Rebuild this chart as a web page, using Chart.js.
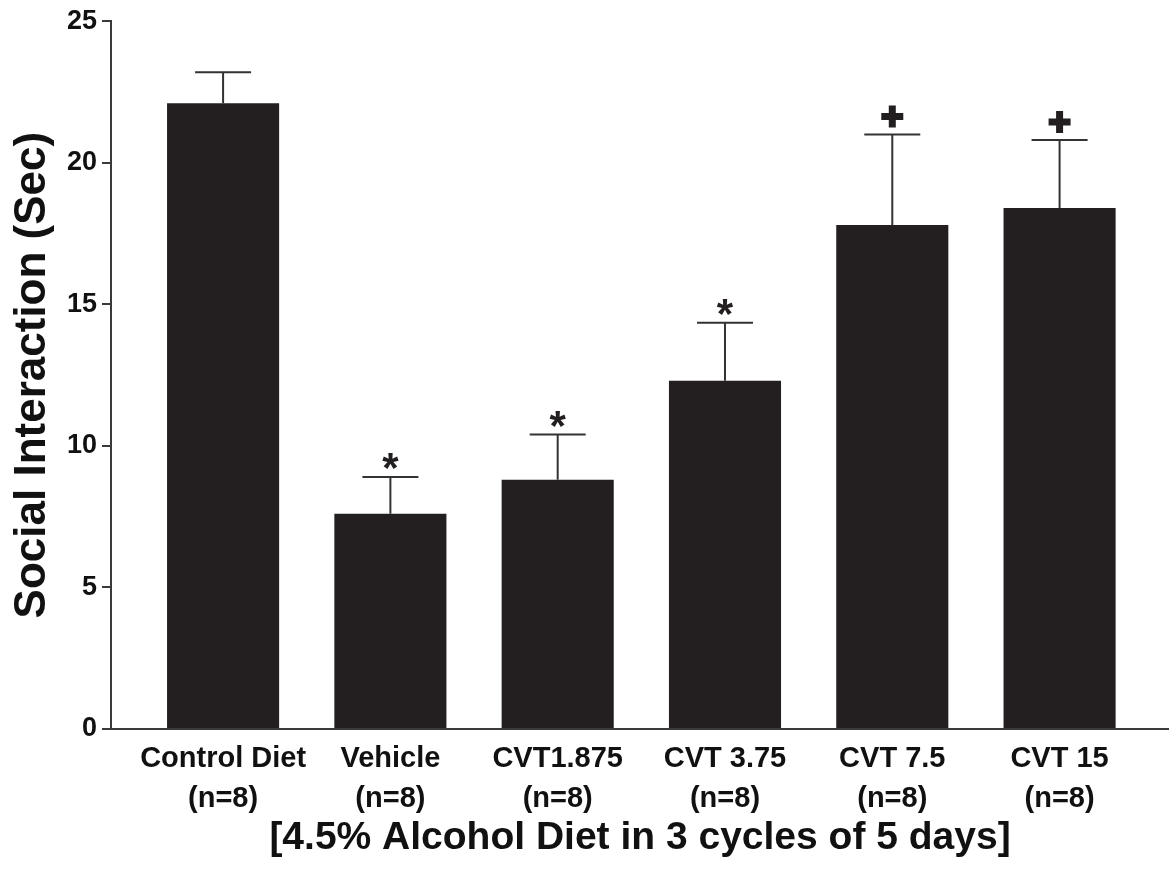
<!DOCTYPE html>
<html>
<head>
<meta charset="utf-8">
<script src="https://cdn.jsdelivr.net/npm/chart.js@4/dist/chart.umd.min.js"></script>
<style>
  body { margin: 0; background: #fff; }
  canvas { display: block; }
</style>
</head>
<body>
<canvas id="chart" width="1169" height="869"></canvas>
<script>
const categories = ["Control Diet", "Vehicle", "CVT1.875", "CVT 3.75", "CVT 7.5", "CVT 15"];
const groupSizes = ["(n=8)", "(n=8)", "(n=8)", "(n=8)", "(n=8)", "(n=8)"];
const means = [22.1, 7.6, 8.8, 12.3, 17.8, 18.4];
const sem = [1.1, 1.3, 1.6, 2.05, 3.2, 2.4];
const marks = ["", "*", "*", "*", "+", "+"];
const yTicks = [0, 5, 10, 15, 20, 25];

const FONT = "'Liberation Sans', Arial, Helvetica, sans-serif";
const INK = "#231f20";

// upper error bars + significance marks
const errorBars = {
  id: "errorBars",
  afterDatasetsDraw(chart) {
    const ctx = chart.ctx;
    const y = chart.scales.y;
    const meta = chart.getDatasetMeta(0);
    ctx.save();
    meta.data.forEach((bar, i) => {
      const top = y.getPixelForValue(means[i]);
      const cap = y.getPixelForValue(means[i] + sem[i]);
      ctx.strokeStyle = "#333";
      ctx.lineWidth = 2;
      ctx.beginPath();
      ctx.moveTo(bar.x, top);
      ctx.lineTo(bar.x, cap);
      ctx.moveTo(bar.x - 28, cap);
      ctx.lineTo(bar.x + 28, cap);
      ctx.stroke();

      if (marks[i] === "*") {
        ctx.font = "bold 42px " + FONT;
        ctx.fillStyle = INK;
        ctx.textAlign = "center";
        ctx.textBaseline = "alphabetic";
        const m = ctx.measureText("*");
        const target = cap - 16;
        ctx.fillText("*", bar.x, target + (m.actualBoundingBoxAscent - m.actualBoundingBoxDescent) / 2);
      } else if (marks[i] === "+") {
        const cy = cap - 18;
        ctx.strokeStyle = INK;
        ctx.lineWidth = 7;
        ctx.beginPath();
        ctx.moveTo(bar.x - 11, cy);
        ctx.lineTo(bar.x + 11, cy);
        ctx.moveTo(bar.x, cy - 11);
        ctx.lineTo(bar.x, cy + 11);
        ctx.stroke();
      }
    });
    ctx.restore();
  }
};

new Chart(document.getElementById("chart"), {
  type: "bar",
  data: {
    datasets: [{
      data: means.map((v, i) => ({ x: i, y: v })),
      backgroundColor: INK,
      borderWidth: 0,
      barPercentage: 0.67,
      categoryPercentage: 1.0
    }]
  },
  options: {
    responsive: false,
    animation: false,
    layout: { padding: { top: 21, right: 0, left: 0, bottom: 0 } },
    plugins: {
      legend: { display: false },
      tooltip: { enabled: false }
    },
    scales: {
      x: {
        type: "linear",
        offset: false,
        min: -0.67,
        max: 5.654,
        afterBuildTicks: (scale) => {
          scale.ticks = categories.map((c, i) => ({ value: i }));
        },
        afterFit: (scale) => { scale.height = 140; },
        grid: { display: false, drawTicks: false, offset: false },
        border: { display: true, color: "#3a3a3a", width: 2 },
        ticks: {
          autoSkip: false,
          maxRotation: 0,
          padding: 10,
          color: "#111",
          font: { family: FONT, size: 29, weight: "bold", lineHeight: 1.38 },
          callback: (v) => [categories[v], groupSizes[v]]
        },
        title: {
          display: true,
          text: "[4.5% Alcohol Diet in 3 cycles of 5 days]",
          color: "#111",
          font: { family: FONT, size: 39, weight: "bold", lineHeight: 1.2 },
          padding: { top: 0, bottom: 7 }
        }
      },
      y: {
        min: 0,
        max: 25,
        afterBuildTicks: (scale) => {
          scale.ticks = yTicks.map(v => ({ value: v }));
        },
        afterFit: (scale) => { scale.width = 111; },
        grid: { drawOnChartArea: false, drawTicks: true, tickLength: 9, color: "#3a3a3a", lineWidth: 2 },
        border: { display: true, color: "#3a3a3a", width: 2 },
        ticks: {
          padding: 5,
          color: "#111",
          font: { family: FONT, size: 27, weight: "bold" }
        },
        title: {
          display: true,
          text: "Social Interaction (Sec)",
          color: "#111",
          font: { family: FONT, size: 44, weight: "bold", lineHeight: 1.2 },
          padding: { top: 6, bottom: 0 }
        }
      }
    }
  },
  plugins: [errorBars]
});
</script>
</body>
</html>
